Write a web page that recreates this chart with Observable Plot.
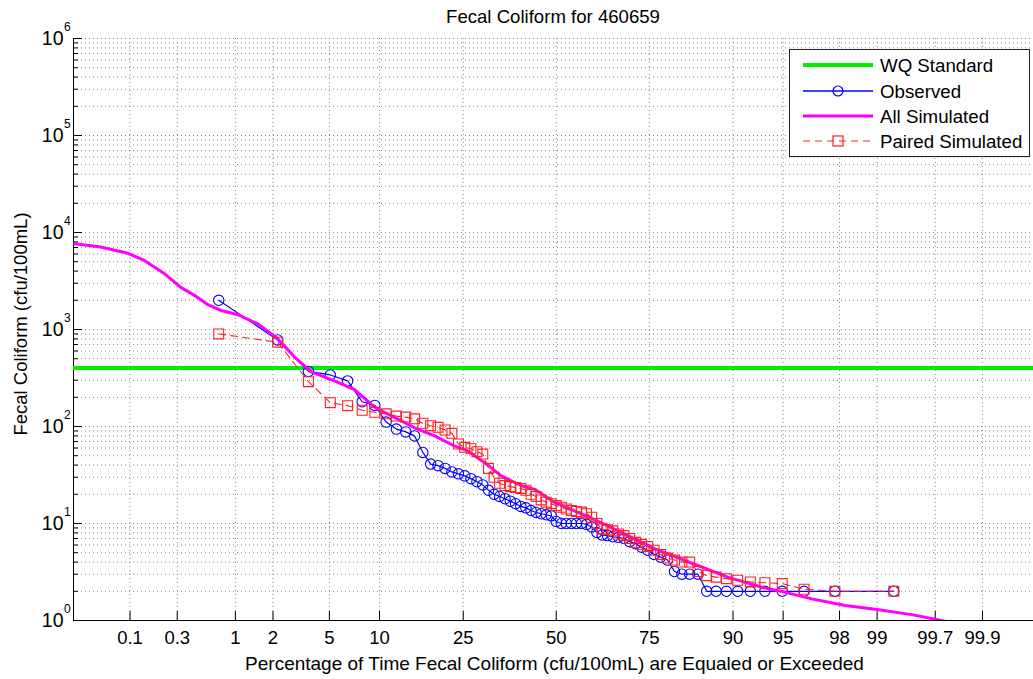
<!DOCTYPE html>
<html>
<head>
<meta charset="utf-8">
<script src="https://cdn.jsdelivr.net/npm/d3@7"></script>
<script src="https://cdn.jsdelivr.net/npm/@observablehq/plot@0.6"></script>
<style>
  html, body { margin: 0; padding: 0; background: #fff; overflow: hidden; }
  #chart { width: 1033px; height: 679px; }
</style>
</head>
<body>
<div id="chart"></div>
<script>
// ---------------- data ----------------
const chartTitle = "Fecal Coliform for 460659";
const xLabel = "Percentage of Time Fecal Coliform (cfu/100mL) are Equaled or Exceeded";
const yLabel = "Fecal Coliform (cfu/100mL)";
const seriesNames = ["WQ Standard", "Observed", "All Simulated", "Paired Simulated"];

const wqStandard = 400;

// exceedance percentages of the 69 paired samples
const samplePct = [0.72, 2.17, 3.62, 5.07, 6.52, 7.97, 9.42, 10.87, 12.32, 13.77,
  15.22, 16.67, 18.12, 19.57, 21.01, 22.46, 23.91, 25.36, 26.81, 28.26,
  29.71, 31.16, 32.61, 34.06, 35.51, 36.96, 38.41, 39.86, 41.30, 42.75,
  44.20, 45.65, 47.10, 48.55, 50.00, 51.45, 52.90, 54.35, 55.80, 57.25,
  58.70, 60.14, 61.59, 63.04, 64.49, 65.94, 67.39, 68.84, 70.29, 71.74,
  73.19, 74.64, 76.09, 77.54, 78.99, 80.43, 81.88, 83.33, 84.78, 86.23,
  87.68, 89.13, 90.58, 92.03, 93.48, 94.93, 96.38, 97.83, 99.28];

const observed = [2000, 780, 370, 340, 295, 180, 165, 111, 94, 88,
  80, 54, 41, 39.5, 37, 34, 32.5, 31, 29, 27,
  25, 22, 20, 19, 18, 17, 16, 15, 14.5, 13.6,
  13, 12.6, 12.3, 12, 10.5, 10, 10, 10, 10, 10,
  9.8, 9.2, 8.1, 7.6, 7.5, 7.3, 7.2, 7, 6.5, 6.2,
  5.7, 5.3, 4.8, 4.5, 4.2, 3.2, 3.0, 3.0, 3.0, 2,
  2, 2, 2, 2, 2, 2, 2, 2, 2];

const pairedSim = [900, 740, 290, 176, 164, 147, 140, 135, 128, 125,
  120, 108, 102, 98, 92, 85, 66, 61, 59, 55,
  52, 37, 30, 26, 24.6, 24, 23.5, 23, 22, 20,
  19, 17.5, 16.6, 16, 15.3, 14.7, 14.1, 13.6, 13.3, 13.1,
  12.6, 11.6, 10, 8.8, 8.6, 8.4, 7.8, 7.5, 7, 6.4,
  6.1, 5.8, 5.3, 4.8, 4.4, 4.2, 4.0, 4.0, 3.2, 2.9,
  2.8, 2.7, 2.6, 2.5, 2.45, 2.4, 2.1, 2.0, 2.0];

// all simulated (continuous duration curve)
const simPct = [0.024, 0.048, 0.095, 0.141, 0.226, 0.327, 0.436, 0.577, 0.757, 1.05,
  1.53, 2.18, 2.89, 3.78, 5.39, 7.18, 9.38, 12.04, 15.2, 18.9,
  23.0, 26.1, 31.0, 34.5, 40.0, 43.8, 49.5, 59.1, 68.1, 76.2,
  81.8, 84.2, 89.3, 93.2, 95.1, 96.8, 98.2, 99.0, 99.5, 99.7, 99.77];
const simVal = [7650, 7100, 6100, 5150, 3750, 2700, 2250, 1800, 1570, 1420,
  1140, 800, 520, 365, 295, 240, 158, 124, 97, 80,
  63, 56, 40, 31, 24.5, 22.5, 16.5, 11.8, 8.1, 5.5,
  4.3, 3.8, 2.8, 2.2, 1.96, 1.67, 1.43, 1.3, 1.15, 1.03, 0.97];

const xTickLabels = [0.1, 0.3, 1, 2, 5, 10, 25, 50, 75, 90, 95, 98, 99, 99.7, 99.9];
const yDecades = [0, 1, 2, 3, 4, 5, 6];

// ---------------- helpers ----------------
// inverse standard normal CDF (Acklam)
function probit(p) {
  const a = [-3.969683028665376e+01, 2.209460984245205e+02, -2.759285104469687e+02, 1.383577518672690e+02, -3.066479806614716e+01, 2.506628277459239e+00];
  const b = [-5.447609879822406e+01, 1.615858368580409e+02, -1.556989798598866e+02, 6.680131188771972e+01, -1.328068155288572e+01];
  const c = [-7.784894002430293e-03, -3.223964580411365e-01, -2.400758277161838e+00, -2.549671635676610e+00, 4.374664141464968e+00, 2.938163982698783e+00];
  const d = [7.784695709041462e-03, 3.224671290700398e-01, 2.445134137142996e+00, 3.754408661907416e+00];
  const pl = 0.02425, ph = 1 - pl;
  let q, r;
  if (p < pl) {
    q = Math.sqrt(-2 * Math.log(p));
    return (((((c[0]*q+c[1])*q+c[2])*q+c[3])*q+c[4])*q+c[5]) / ((((d[0]*q+d[1])*q+d[2])*q+d[3])*q+1);
  }
  if (p <= ph) {
    q = p - 0.5; r = q * q;
    return (((((a[0]*r+a[1])*r+a[2])*r+a[3])*r+a[4])*r+a[5])*q / (((((b[0]*r+b[1])*r+b[2])*r+b[3])*r+b[4])*r+1);
  }
  q = Math.sqrt(-2 * Math.log(1 - p));
  return -(((((c[0]*q+c[1])*q+c[2])*q+c[3])*q+c[4])*q+c[5]) / ((((d[0]*q+d[1])*q+d[2])*q+d[3])*q+1);
}
const px = (pct) => probit(pct / 100);

const samples = samplePct.map((p, i) => ({p, obs: observed[i], sim: pairedSim[i]}));
const sim = simPct.map((p, i) => ({p, v: simVal[i]}));
const xTicks = xTickLabels.map(t => ({t, z: px(t)}));
const decades = yDecades.map(k => ({k, v: Math.pow(10, k)}));
const minorVals = [];
for (let k = 0; k < 6; k++) for (let m = 2; m <= 9; m++) minorVals.push(m * Math.pow(10, k));
const gridY = decades.map(d => d.v).concat(minorVals);

const W = 1033, H = 679;
const mL = 73, mR = 0, mT = 38, mB = 59;
const plotH = H - mT - mB, plotW = W - mL - mR;
const FONT = "'Liberation Sans', Arial, Helvetica, sans-serif";
const GRID = "#8c8c8c";

const chart = Plot.plot({
  width: W, height: H,
  marginLeft: mL, marginRight: mR, marginTop: mT, marginBottom: mB,
  style: {fontFamily: FONT, fontSize: "18px", background: "#fff", color: "#000", overflow: "visible"},
  x: {type: "linear", domain: [-3.5, 3.46], axis: null},
  y: {type: "log", domain: [1, 1e6], axis: null},
  marks: [
    // grid
    Plot.ruleX(xTicks, {x: "z", stroke: GRID, strokeWidth: 1, strokeDasharray: "1,3"}),
    Plot.ruleY(gridY, {stroke: GRID, strokeWidth: 1, strokeDasharray: "1,3"}),
    // axes lines
    Plot.ruleX([-3.5], {stroke: "#000", strokeWidth: 1}),
    Plot.ruleY([1], {stroke: "#000", strokeWidth: 1}),
    // inward ticks
    Plot.tickX(xTicks, {x: "z", stroke: "#000", insetTop: plotH - 9}),
    Plot.tickY(decades, {y: "v", stroke: "#000", insetRight: plotW - 9}),
    Plot.tickY(minorVals, {stroke: "#000", insetRight: plotW - 5}),
    // tick labels
    Plot.text(xTicks, {x: "z", frameAnchor: "bottom", dy: 18, lineAnchor: "middle", text: d => String(d.t), fontSize: 18.5}),
    Plot.text(decades, {y: "v", frameAnchor: "left", dx: -10, textAnchor: "end", lineAnchor: "middle", text: () => "10", fontSize: 19.5}),
    Plot.text(decades, {y: "v", frameAnchor: "left", dx: -9.5, dy: -11, textAnchor: "start", lineAnchor: "middle", text: d => String(d.k), fontSize: 12}),
    // series
    Plot.ruleY([wqStandard], {stroke: "#00ee00", strokeWidth: 4}),
    Plot.line(samples, {x: d => px(d.p), y: "obs", stroke: "#0000ff", strokeWidth: 1.2}),
    Plot.dot(samples, {x: d => px(d.p), y: "obs", stroke: "#0000ff", r: 5.2, strokeWidth: 1.1, fill: "none"}),
    Plot.line(sim, {x: d => px(d.p), y: "v", stroke: "#ff00ff", strokeWidth: 3, clip: true}),
    Plot.line(samples, {x: d => px(d.p), y: "sim", stroke: "#ff2020", strokeWidth: 1.1, strokeDasharray: "7,5"}),
    Plot.dot(samples, {x: d => px(d.p), y: "sim", stroke: "#ff2020", symbol: "square", r: 5.6, strokeWidth: 1.1, fill: "none"})
  ]
});

document.getElementById("chart").appendChild(chart);

// ---------------- titles, labels, legend ----------------
const svg = d3.select(chart);
svg.append("text").attr("x", 553).attr("y", 23).attr("text-anchor", "middle")
  .attr("font-family", FONT).attr("font-size", 18.6).attr("fill", "#000").text(chartTitle);
svg.append("text").attr("x", 554.5).attr("y", 670).attr("text-anchor", "middle")
  .attr("font-family", FONT).attr("font-size", 19).attr("fill", "#000").text(xLabel);
svg.append("text").attr("transform", "translate(27,324) rotate(-90)").attr("text-anchor", "middle")
  .attr("font-family", FONT).attr("font-size", 18.5).attr("fill", "#000").text(yLabel);

const lg = svg.append("g");
lg.append("rect").attr("x", 789.5).attr("y", 49.5).attr("width", 240).attr("height", 107)
  .attr("fill", "#fff").attr("stroke", "#222").attr("stroke-width", 1);
const rowsY = [65, 91, 116, 141];
const lx1 = 803, lx2 = 873, lmx = 838;
// WQ standard
lg.append("line").attr("x1", lx1).attr("x2", lx2).attr("y1", rowsY[0]).attr("y2", rowsY[0]).attr("stroke", "#00ee00").attr("stroke-width", 4);
// Observed
lg.append("line").attr("x1", lx1).attr("x2", lx2).attr("y1", rowsY[1]).attr("y2", rowsY[1]).attr("stroke", "#0000ff").attr("stroke-width", 1.5);
lg.append("circle").attr("cx", lmx).attr("cy", rowsY[1]).attr("r", 5).attr("fill", "none").attr("stroke", "#0000ff").attr("stroke-width", 1.2);
// All simulated
lg.append("line").attr("x1", lx1).attr("x2", lx2).attr("y1", rowsY[2]).attr("y2", rowsY[2]).attr("stroke", "#ff00ff").attr("stroke-width", 3);
// Paired simulated
lg.append("line").attr("x1", lx1).attr("x2", lx2).attr("y1", rowsY[3]).attr("y2", rowsY[3]).attr("stroke", "#ff2020").attr("stroke-width", 1.2).attr("stroke-dasharray", "7,5");
lg.append("rect").attr("x", lmx - 5).attr("y", rowsY[3] - 5).attr("width", 10).attr("height", 10).attr("fill", "none").attr("stroke", "#ff2020").attr("stroke-width", 1.2);
seriesNames.forEach((name, i) => {
  lg.append("text").attr("x", 880).attr("y", rowsY[i]).attr("dy", "0.35em").attr("text-anchor", "start")
    .attr("font-family", FONT).attr("font-size", 18.7).attr("fill", "#000").text(name);
});
</script>
</body>
</html>
